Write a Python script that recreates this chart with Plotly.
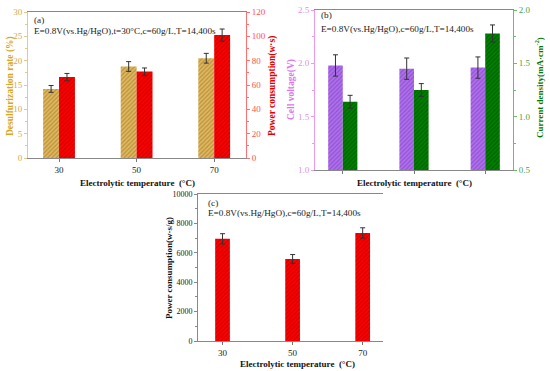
import plotly.graph_objects as go

categories = ["30", "50", "70"]
# panel (a)
desulf_rate = [14.2, 18.8, 20.5]
desulf_err = [0.7, 1.0, 1.0]
power_a = [66.5, 71.0, 101.0]
power_a_err = [3.0, 3.0, 5.0]
# panel (b)
cell_voltage = [1.98, 1.95, 1.96]
cell_voltage_err = [0.10, 0.10, 0.10]
current_density = [1.14, 1.25, 1.78]
current_density_err = [0.06, 0.06, 0.08]
# panel (c)
power_c = [6950, 5580, 7350]
power_c_err = [350, 300, 350]

W, H = 550, 371
FONT = "Liberation Serif"
xpos = [0, 1, 2]


def px(x):
    return x / W


def py(y):
    return 1 - y / H


def err(arr, w=2.5):
    return dict(type="data", array=arr, color="#333333", thickness=1, width=w)


def pat(fg, bg):
    return dict(shape="/", fgcolor=fg, bgcolor=bg, size=3, solidity=0.4, fillmode="overlay")


fig = go.Figure()

# ---- panel (a)
fig.add_trace(go.Bar(x=xpos, y=desulf_rate, offset=-0.205, width=0.205,
                     marker=dict(color="#E2B85C", pattern=pat("#8A6A28", "#E2B85C"), line=dict(width=0)),
                     error_y=err(desulf_err), xaxis="x", yaxis="y", showlegend=False))
fig.add_trace(go.Bar(x=xpos, y=power_a, offset=0.0, width=0.205,
                     marker=dict(color="#FF0000", pattern=pat("#A00000", "#FF0000"), line=dict(width=0)),
                     error_y=err(power_a_err), xaxis="x", yaxis="y2", showlegend=False))
# ---- panel (b)
fig.add_trace(go.Bar(x=xpos, y=cell_voltage, base=0, offset=-0.205, width=0.205,
                     marker=dict(color="#B070EE", pattern=pat("#7035B0", "#B070EE"), line=dict(width=0)),
                     error_y=err(cell_voltage_err), xaxis="x3", yaxis="y3", showlegend=False))
fig.add_trace(go.Bar(x=xpos, y=current_density, base=0, offset=0.0, width=0.205,
                     marker=dict(color="#008000", pattern=pat("#004400", "#008000"), line=dict(width=0)),
                     error_y=err(current_density_err), xaxis="x3", yaxis="y4", showlegend=False))
# ---- panel (c)
fig.add_trace(go.Bar(x=xpos, y=power_c, offset=-0.105, width=0.21,
                     marker=dict(color="#FF0000", pattern=pat("#A00000", "#FF0000"), line=dict(width=0)),
                     error_y=err(power_c_err), xaxis="x5", yaxis="y5", showlegend=False))


def xax(domain, anchor, rng, labels=True):
    return dict(domain=domain, anchor=anchor, range=rng, tickvals=xpos, ticktext=categories,
                showticklabels=labels, ticks="outside", ticklen=3, tickcolor="#777777",
                showline=True, linecolor="#888888", linewidth=1, mirror=True, automargin=False,
                showgrid=False, zeroline=False, tickfont=dict(family=FONT, size=9, color="#222222"),
                fixedrange=True)


def yax(domain, anchor, rng, dtick, color, tickcolor, side="left", overlaying=None, fmt=None, minor=None,
        size=9):
    d = dict(domain=domain, anchor=anchor, range=rng, dtick=dtick, side=side, automargin=False,
             ticks="outside", ticklen=3, tickcolor=color, showline=True, linecolor=color, linewidth=1,
             showgrid=False, zeroline=False, tickfont=dict(family=FONT, size=size, color=tickcolor),
             minor=dict(ticks="outside", ticklen=2, dtick=minor, tickcolor=color, showgrid=False),
             fixedrange=True)
    if overlaying:
        d["overlaying"] = overlaying
    if fmt:
        d["tickformat"] = fmt
    return d


dom_a_x = [px(28), px(246)]
dom_a_y = [py(158), py(12)]
dom_b_x = [px(315), px(513)]
dom_b_y = [py(170), py(10)]
dom_c_x = [px(198), px(383)]
dom_c_y = [py(341), py(194)]

fig.update_layout(
    width=W, height=H, margin=dict(l=0, r=0, t=0, b=0, autoexpand=False),
    paper_bgcolor="white", plot_bgcolor="white",
    barmode="overlay",
    xaxis=xax(dom_a_x, "y", [-0.40, 2.41]),
    yaxis=yax(dom_a_y, "x", [0, 30], 5, "#E6C88A", "#D4AA55", minor=2.5),
    yaxis2=yax(dom_a_y, "x", [0, 120], 20, "#FF7070", "#FF5050", side="right", overlaying="y", minor=10),
    xaxis3=xax(dom_b_x, "y3", [-0.39, 2.39], labels=False),
    yaxis3=yax(dom_b_y, "x3", [1.0, 2.5], 0.5, "#EE99EE", "#E090E8", fmt=".1f", minor=0.25),
    yaxis4=yax(dom_b_y, "x3", [0.5, 2.0], 0.5, "#70BB70", "#50A050", side="right", overlaying="y3", fmt=".1f",
               minor=0.25),
    xaxis5=xax(dom_c_x, "y5", [-0.35, 2.29]),
    yaxis5=yax(dom_c_y, "x5", [0, 10000], 2000, "#888888", "#222222", fmt="d", minor=1000, size=8),
)


def ann(text, x, y, size=9.2, color="#222222", bold=False, angle=0, xanchor="center"):
    t = f"<b>{text}</b>" if bold else text
    fig.add_annotation(text=t, x=px(x), y=py(y), xref="paper", yref="paper", showarrow=False,
                       textangle=angle, xanchor=xanchor, yanchor="middle",
                       font=dict(family=FONT, size=size, color=color))


# in-plot texts
ann("(a)", 32, 20, xanchor="left")
ann("E=0.8V(vs.Hg/HgO),t=30°C,c=60g/L,T=14,400s", 32, 31, xanchor="left")
ann("(b)", 319, 15, xanchor="left")
ann("E=0.8V(vs.Hg/HgO),c=60g/L,T=14,400s", 319, 29, xanchor="left")
ann("(c)", 206, 203, xanchor="left")
ann("E=0.8V(vs.Hg/HgO),c=60g/L,T=14,400s", 206, 213, xanchor="left")

# axis titles
ann("Desulfurization rate (%)", 10, 86, size=9.5, color="#DAA520", bold=True, angle=-90)
ann("Power consumption(w·s)", 272, 86, size=9.5, color="#E00000", bold=True, angle=-90)
ann("Cell voltage(V)", 291, 90, size=9.5, color="#DD77EE", bold=True, angle=-90)
ann("Current density(mA·cm<sup>-2</sup>)", 539, 88, size=9, color="#007700", bold=True, angle=-90)
ann("Power consumption(w·s/g)", 169, 268, size=9, color="#111111", bold=True, angle=-90)
ann("Electrolytic temperature  (°C)", 137, 183, size=9, color="#111111", bold=True)
ann("Electrolytic temperature  (°C)", 414, 183, size=9, color="#111111", bold=True)
ann("Electrolytic temperature  (°C)", 297, 364, size=9, color="#111111", bold=True)

fig.write_html("out.html", config={"displayModeBar": False},
               post_script="document.body.style.margin='0px';")
